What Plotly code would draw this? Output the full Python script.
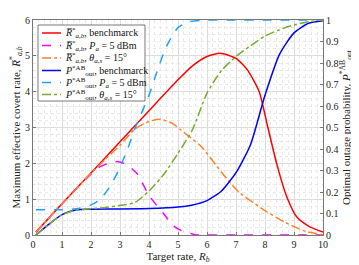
import plotly.graph_objects as go

# Left axis: maximum effective covert rate
x_red = [0.1, 1, 2, 3, 4, 5, 5.5, 6, 6.45, 7, 7.4, 7.8, 8.1, 8.4, 8.75, 9.1, 9.5, 10]
y_red = [0.08, 0.87, 1.73, 2.6, 3.47, 4.33, 4.72, 4.98, 5.07, 4.93, 4.6, 4.0, 3.0, 2.0, 1.07, 0.5, 0.25, 0.08]

x_mag = [0.1, 1, 1.5, 2, 2.3, 2.6, 2.9, 3.2, 3.6, 4.0, 4.5, 4.85, 5.1, 5.6, 6, 7, 8, 9, 10]
y_mag = [0.08, 0.87, 1.3, 1.7, 1.9, 2.0, 2.05, 1.98, 1.7, 1.1, 0.6, 0.25, 0.13, 0.01, 0, 0, 0, 0, 0]

x_ora = [0.1, 1, 2, 2.5, 3, 3.5, 4, 4.4, 4.8, 5.1, 5.8, 6.5, 7.1, 8, 8.7, 9.4, 10]
y_ora = [0.08, 0.87, 1.72, 2.12, 2.5, 2.95, 3.17, 3.23, 3.12, 2.93, 2.47, 1.75, 1.2, 0.68, 0.35, 0.1, 0.01]

# Right axis: optimal outage probability
x_blu = [0.1, 0.5, 1, 1.5, 2, 3, 4, 5, 5.5, 6, 6.5, 7, 7.5, 8, 8.5, 9, 9.5, 10]
y_blu = [0.0, 0.045, 0.095, 0.117, 0.12, 0.121, 0.123, 0.13, 0.14, 0.16, 0.205, 0.29, 0.42, 0.65, 0.84, 0.94, 0.985, 0.997]

x_lbl = [0.1, 1, 1.5, 2, 2.3, 2.65, 2.95, 3.25, 3.5, 4, 4.3, 4.6, 5, 5.4, 6, 7, 8, 9, 10]
y_lbl = [0.117, 0.118, 0.122, 0.14, 0.163, 0.225, 0.30, 0.395, 0.49, 0.65, 0.77, 0.876, 0.965, 0.992, 1.0, 1.0, 1.0, 1.0, 1.0]

x_grn = [0.1, 0.5, 1, 1.5, 2, 2.5, 3, 3.5, 4, 4.5, 5, 5.5, 6, 6.5, 7, 7.5, 8, 8.5, 9, 9.5, 10]
y_grn = [0.0, 0.045, 0.095, 0.117, 0.122, 0.128, 0.138, 0.15, 0.205, 0.28, 0.38, 0.49, 0.66, 0.765, 0.83, 0.88, 0.925, 0.955, 0.977, 0.992, 1.0]

R = "<i>R̅</i><sup>*</sup><sub><i>a,b</i></sub>"
P = "<i>P</i><sup>*AB</sup><sub>out</sub>"
names = [
    R + ", benchmarck",
    R + ", <i>P<sub>a</sub></i> = 5 dBm",
    R + ", <i>θ<sub>a,s</sub></i> = 15°",
    P + ", benchmarck",
    P + ", <i>P<sub>a</sub></i> = 5 dBm",
    P + ", <i>θ<sub>a,s</sub></i> = 15°",
]

# page offset (body margin) compensation
OFF = 8
W, H = 359 - OFF, 265 - OFF
# plot area in screen pixels: x 33..323, y 20..235
ML, MT = 33 - OFF, 20 - OFF
MR = W - (323 - OFF)
MB = H - (235 - OFF)
PW, PH = W - ML - MR, H - MT - MB

def px(xs):
    return (xs - 33) / PW

def py(ys):
    return (235 - ys) / PH

fig = go.Figure()
specs = [
    (x_red, y_red, "#FF0000", "solid", "y"),
    (x_mag, y_mag, "#FF00FF", "dash", "y"),
    (x_ora, y_ora, "#FF7F2A", "dashdot", "y"),
    (x_blu, y_blu, "#0000FF", "solid", "y2"),
    (x_lbl, y_lbl, "#1EA0FF", "dash", "y2"),
    (x_grn, y_grn, "#77AC30", "dashdot", "y2"),
]
for (xs, ys, c, d, ax), n in zip(specs, names):
    fig.add_trace(go.Scatter(x=xs, y=ys, mode="lines", name=n, yaxis=ax, showlegend=False,
                             line=dict(color=c, dash=d, width=1.5, shape="spline", smoothing=0.6)))

# Compact legend box (drawn manually to match the reference row spacing)
shapes = [dict(type="rect", xref="paper", yref="paper",
               x0=px(38), x1=px(145), y0=py(101), y1=py(25),
               line=dict(color="#555", width=0.8), fillcolor="white", layer="above")]
annotations = []
row_y = [33, 45.5, 58, 70.5, 82.5, 94.5]
for (xs, ys, c, d, ax), n, ry in zip(specs, names, row_y):
    shapes.append(dict(type="line", xref="paper", yref="paper",
                       x0=px(42), x1=px(61), y0=py(ry), y1=py(ry),
                       line=dict(color=c, dash=d, width=1.5), layer="above"))
    annotations.append(dict(xref="paper", yref="paper", x=px(62.5), y=py(ry),
                            xanchor="left", yanchor="middle", text=n, showarrow=False,
                            font=dict(family="Liberation Serif, serif", size=10, color="#111")))

font = dict(family="Liberation Serif, DejaVu Serif, serif", size=10, color="#222")
tfont = dict(family="Liberation Serif, DejaVu Serif, serif", size=11, color="#222")
axcommon = dict(showline=True, linecolor="#777", linewidth=1, ticks="inside", ticklen=3,
                tickcolor="#777", tickfont=font, zeroline=False, automargin=False)
fig.update_layout(
    width=W, height=H,
    margin=dict(l=ML, r=MR, t=MT, b=MB),
    paper_bgcolor="white", plot_bgcolor="white",
    font=font,
    showlegend=False,
    shapes=shapes,
    annotations=annotations,
    xaxis=dict(range=[0, 10], dtick=1, mirror=True,
               showgrid=True, gridcolor="#dcdcdc", gridwidth=0.8,
               minor=dict(dtick=0.2, showgrid=True, gridcolor="#e8e8e8", griddash="dot", gridwidth=0.6),
               title=dict(text="Target rate, <i>R<sub>b</sub></i>", font=tfont, standoff=2),
               **axcommon),
    yaxis=dict(range=[0, 6], dtick=1, mirror=False,
               showgrid=True, gridcolor="#dcdcdc", gridwidth=0.8,
               minor=dict(dtick=0.2, showgrid=True, gridcolor="#e8e8e8", griddash="dot", gridwidth=0.6),
               title=dict(text="Maximum effective covert rate, " + R, font=tfont, standoff=2),
               **axcommon),
    yaxis2=dict(range=[0, 1], dtick=0.1, overlaying="y", side="right", showgrid=False,
                title=dict(text="Optimal outage probability, " + P, font=tfont, standoff=2),
                **axcommon),
)
fig.write_html("out.html")
